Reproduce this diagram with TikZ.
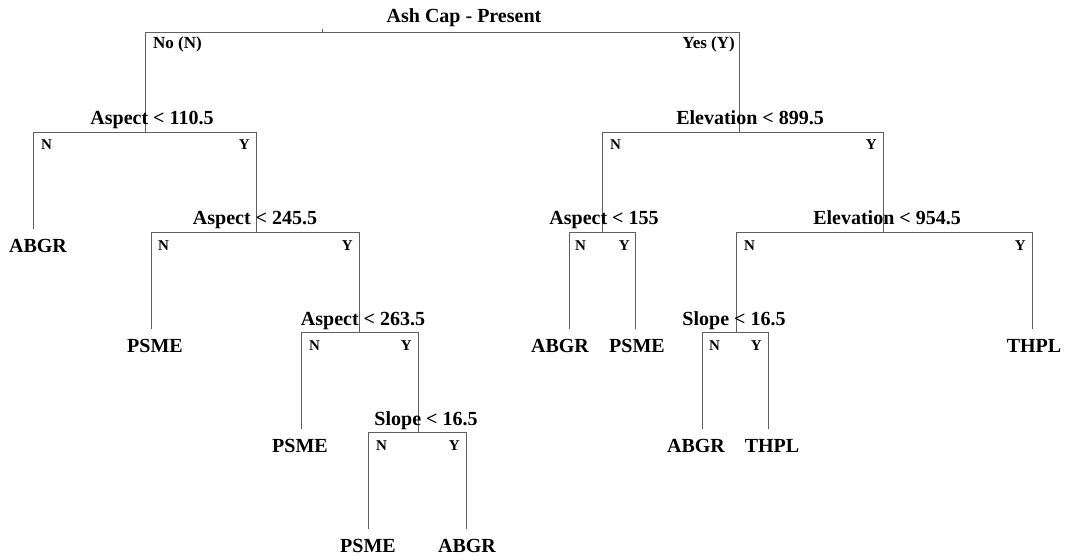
\documentclass[tikz,border=0pt]{standalone}
\usepackage{fontspec}
\setmainfont{Liberation Serif}
\definecolor{treeline}{RGB}{95,95,95}
\pgfdeclarelayer{bg}
\pgfsetlayers{bg,main}
\begin{document}
\begin{tikzpicture}[x=1pt,y=-1pt,
  edge/.style={draw=treeline, line width=0.9pt},
  splitlab/.style={font=\bfseries\fontsize{20}{24}\selectfont, anchor=base, inner sep=0pt},
  leaflab/.style={font=\bfseries\fontsize{20}{24}\selectfont, anchor=base, inner sep=0pt},
  nlab/.style={font=\bfseries\fontsize{15}{18}\selectfont, anchor=base west, inner sep=0pt},
  ylab/.style={font=\bfseries\fontsize{15}{18}\selectfont, anchor=base east, inner sep=0pt},
  rootlab/.style={font=\bfseries\fontsize{17}{20}\selectfont, inner sep=0pt},
  leafedge/.style={edge, shorten >=10pt}
]
\useasboundingbox (0,0) rectangle (1065,556);

% ---------- root ----------
\node[splitlab] (title) at (464,23) {Ash Cap - Present};
\coordinate (r) at (322,32);
\coordinate (rL) at (145,32);
\coordinate (rR) at (739,32);
\node[rootlab, anchor=base west] (rno) at (153,49) {No (N)};
\node[rootlab, anchor=base east] (ryes) at (735,49) {Yes (Y)};

% ---------- left subtree ----------
\coordinate (a1) at (145,132);
\coordinate (a1L) at (33,132);
\coordinate (a1R) at (256,132);
\node[splitlab] (a1t) at (152,125) {Aspect < 110.5};
\node[nlab] (a1n) at (41,150) {N};
\node[ylab] (a1y) at (250,150) {Y};
\node[leaflab] (l1) at (38,252) {ABGR};

\coordinate (a2) at (256,232);
\coordinate (a2L) at (151,232);
\coordinate (a2R) at (359,232);
\node[splitlab] (a2t) at (255,225) {Aspect < 245.5};
\node[nlab] (a2n) at (158,250) {N};
\node[ylab] (a2y) at (353,250) {Y};
\node[leaflab] (l2) at (155,352) {PSME};

\coordinate (a3) at (359,332);
\coordinate (a3L) at (301,332);
\coordinate (a3R) at (418,332);
\node[splitlab] (a3t) at (363,325) {Aspect < 263.5};
\node[nlab] (a3n) at (309,350) {N};
\node[ylab] (a3y) at (412,350) {Y};
\node[leaflab] (l3) at (300,452) {PSME};

\coordinate (s1) at (418,432);
\coordinate (s1L) at (368,432);
\coordinate (s1R) at (466,432);
\node[splitlab] (s1t) at (426,425) {Slope < 16.5};
\node[nlab] (s1n) at (376,450) {N};
\node[ylab] (s1y) at (460,450) {Y};
\node[leaflab] (l4) at (368,552) {PSME};
\node[leaflab] (l5) at (467,552) {ABGR};

% ---------- right subtree ----------
\coordinate (e1) at (739,132);
\coordinate (e1L) at (602,132);
\coordinate (e1R) at (883,132);
\node[splitlab] (e1t) at (750,125) {Elevation < 899.5};
\node[nlab] (e1n) at (610,150) {N};
\node[ylab] (e1y) at (877,150) {Y};

\coordinate (e2) at (602,232);
\coordinate (e2L) at (569,232);
\coordinate (e2R) at (635,232);
\node[splitlab] (e2t) at (604,225) {Aspect < 155};
\node[nlab] (e2n) at (575,250) {N};
\node[ylab] (e2y) at (630,250) {Y};
\node[leaflab] (l6) at (560,352) {ABGR};
\node[leaflab] (l7) at (637,352) {PSME};

\coordinate (e3) at (883,232);
\coordinate (e3L) at (736,232);
\coordinate (e3R) at (1032,232);
\node[splitlab] (e3t) at (887,225) {Elevation < 954.5};
\node[nlab] (e3n) at (744,250) {N};
\node[ylab] (e3y) at (1026,250) {Y};
\node[leaflab] (l8) at (1034,352) {THPL};

\coordinate (s2) at (736,332);
\coordinate (s2L) at (702,332);
\coordinate (s2R) at (768,332);
\node[splitlab] (s2t) at (734,325) {Slope < 16.5};
\node[nlab] (s2n) at (709,350) {N};
\node[ylab] (s2y) at (762,350) {Y};
\node[leaflab] (l9) at (696,452) {ABGR};
\node[leaflab] (l10) at (772,452) {THPL};

% ---------- connectors ----------
\begin{pgfonlayer}{bg}
\draw[edge] (r) -- ++(0,-3);
\draw[edge] (rL) -- (rR);
\draw[edge] (rL) -- (a1);
\draw[edge] (rR) -- (e1);

\draw[edge] (a1L) -- (a1R);
\draw[leafedge] (a1L) -- (a1L |- l1.north);
\draw[edge] (a1R) -- (a2);

\draw[edge] (a2L) -- (a2R);
\draw[leafedge] (a2L) -- (a2L |- l2.north);
\draw[edge] (a2R) -- (a3);

\draw[edge] (a3L) -- (a3R);
\draw[leafedge] (a3L) -- (a3L |- l3.north);
\draw[edge] (a3R) -- (s1);

\draw[edge] (s1L) -- (s1R);
\draw[leafedge] (s1L) -- (s1L |- l4.north);
\draw[leafedge] (s1R) -- (s1R |- l5.north);

\draw[edge] (e1L) -- (e1R);
\draw[edge] (e1L) -- (e2);
\draw[edge] (e1R) -- (e3);

\draw[edge] (e2L) -- (e2R);
\draw[leafedge] (e2L) -- (e2L |- l6.north);
\draw[leafedge] (e2R) -- (e2R |- l7.north);

\draw[edge] (e3L) -- (e3R);
\draw[leafedge] (e3R) -- (e3R |- l8.north);
\draw[edge] (e3L) -- (s2);

\draw[edge] (s2L) -- (s2R);
\draw[leafedge] (s2L) -- (s2L |- l9.north);
\draw[leafedge] (s2R) -- (s2R |- l10.north);
\end{pgfonlayer}
\end{tikzpicture}
\end{document}
